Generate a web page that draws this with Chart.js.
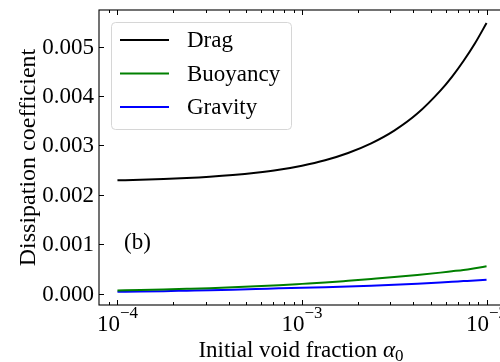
<!DOCTYPE html>
<html>
<head>
<meta charset="utf-8">
<script src="https://cdn.jsdelivr.net/npm/chart.js@4.4.1/dist/chart.umd.min.js"></script>
<style>
  html, body { margin: 0; padding: 0; background: #fff; overflow: hidden; width: 500px; height: 362px; }
  #wrap { position: absolute; left: 0; top: 0; width: 510px; height: 362px; }
</style>
</head>
<body>
<div id="wrap"><canvas id="c" width="510" height="362"></canvas></div>
<script>
// ---- data ----
const alpha0 = [1.0e-4, 1.334e-4, 1.778e-4, 2.371e-4, 3.162e-4, 4.217e-4, 5.623e-4, 7.499e-4, 1.0e-3,
                1.334e-3, 1.778e-3, 2.371e-3, 3.162e-3, 4.217e-3, 5.623e-3, 6.494e-3, 7.499e-3, 8.660e-3, 1.0e-2];
const dragVals     = [0.002293, 0.002304, 0.002319, 0.002338, 0.002364, 0.002399, 0.002446, 0.002507, 0.002590,
                      0.002700, 0.002847, 0.003042, 0.003300, 0.003645, 0.004110, 0.004390, 0.004710, 0.005070, 0.005480];
const buoyancyVals = [0.000060, 0.000070, 0.000081, 0.000094, 0.000108, 0.000125, 0.000145, 0.000168, 0.000195,
                      0.000223, 0.000258, 0.000295, 0.000333, 0.000375, 0.000423, 0.000450, 0.000477, 0.000512, 0.000550];
const gravityVals  = [0.000033, 0.000040, 0.000048, 0.000057, 0.000066, 0.000077, 0.000090, 0.000104, 0.000117,
                      0.000128, 0.000141, 0.000158, 0.000177, 0.000198, 0.000223, 0.000237, 0.000251, 0.000265, 0.000280];
const seriesNames  = ['Drag', 'Buoyancy', 'Gravity'];
const seriesColors = ['#000000', '#008000', '#0000ff'];
const xMajorTicks  = [1e-4, 1e-3, 1e-2];
const xMajorExp    = ['\u22124', '\u22123', '\u22122'];
const yTicks       = [0, 0.001, 0.002, 0.003, 0.004, 0.005];
const yTickLabels  = ['0.000', '0.001', '0.002', '0.003', '0.004', '0.005'];
const xMinorTicks  = [9e-5, 2e-4, 3e-4, 4e-4, 5e-4, 6e-4, 7e-4, 8e-4, 9e-4, 2e-3, 3e-3, 4e-3, 5e-3, 6e-3, 7e-3, 8e-3, 9e-3];
const xRange = [Math.pow(10, -4.1), Math.pow(10, -1.9)];
const yRange = [-0.000233, 0.005744];

const FONT = '"Liberation Serif", "Times New Roman", serif';
const FS = 23;

function pts(vals) { return alpha0.map((a, i) => ({ x: a, y: vals[i] })); }

const mplAxes = {
  id: 'mplAxes',
  afterDatasetsDraw(chart) {
    const ctx = chart.ctx;
    const ca = chart.chartArea;
    const xs = chart.scales.x, ys = chart.scales.y;
    ctx.save();
    ctx.strokeStyle = '#000';
    ctx.fillStyle = '#000';
    ctx.lineWidth = 1.1;
    // spines
    ctx.strokeRect(ca.left, ca.top, ca.right - ca.left, ca.bottom - ca.top);
    // x ticks (inward, bottom & top)
    const drawXT = (v, len) => {
      const px = Math.round(xs.getPixelForValue(v)) + 0.5;
      ctx.beginPath();
      ctx.moveTo(px, ca.bottom); ctx.lineTo(px, ca.bottom - len);
      ctx.moveTo(px, ca.top); ctx.lineTo(px, ca.top + len);
      ctx.stroke();
    };
    ctx.lineWidth = 1;
    xMajorTicks.forEach(v => drawXT(v, 5));
    xMinorTicks.forEach(v => { if (v >= xRange[0] && v <= xRange[1]) drawXT(v, 3); });
    // y ticks (inward)
    yTicks.forEach(v => {
      const py = Math.round(ys.getPixelForValue(v)) + 0.5;
      ctx.beginPath();
      ctx.moveTo(ca.left, py); ctx.lineTo(ca.left + 5, py);
      ctx.moveTo(ca.right, py); ctx.lineTo(ca.right - 5, py);
      ctx.stroke();
    });
    // y tick labels
    ctx.font = FS + 'px ' + FONT;
    ctx.textAlign = 'right';
    ctx.textBaseline = 'middle';
    yTicks.forEach((v, i) => {
      ctx.fillText(yTickLabels[i], ca.left - 5, ys.getPixelForValue(v) + 1);
    });
    // x tick labels: 10^exp
    ctx.textBaseline = 'alphabetic';
    xMajorTicks.forEach((v, i) => {
      const px = xs.getPixelForValue(v);
      ctx.font = FS + 'px ' + FONT;
      const w10 = ctx.measureText('10').width;
      ctx.font = Math.round(FS * 0.72) + 'px ' + FONT;
      const wE = ctx.measureText(xMajorExp[i]).width;
      const start = px - (w10 + wE) / 2;
      ctx.textAlign = 'left';
      ctx.font = FS + 'px ' + FONT;
      ctx.fillText('10', start, ca.bottom + 26);
      ctx.font = Math.round(FS * 0.72) + 'px ' + FONT;
      ctx.fillText(xMajorExp[i], start + w10, ca.bottom + 13);
    });
    // axis titles
    ctx.textAlign = 'left';
    const t1 = 'Initial void fraction ';
    ctx.font = FS + 'px ' + FONT;
    const w1 = ctx.measureText(t1).width;
    ctx.font = 'italic ' + FS + 'px ' + FONT;
    const wa = ctx.measureText('\u03b1').width;
    ctx.font = Math.round(FS * 0.72) + 'px ' + FONT;
    const w0 = ctx.measureText('0').width;
    const cx = (ca.left + ca.right) / 2;
    let sx = cx - (w1 + wa + w0) / 2 - 1;
    const by = 357;
    ctx.font = FS + 'px ' + FONT; ctx.fillText(t1, sx, by);
    ctx.font = 'italic ' + FS + 'px ' + FONT; ctx.fillText('\u03b1', sx + w1, by);
    ctx.font = Math.round(FS * 0.72) + 'px ' + FONT; ctx.fillText('0', sx + w1 + wa, by + 4);
    // y title
    ctx.save();
    ctx.translate(29, (ca.top + ca.bottom) / 2);
    ctx.rotate(-Math.PI / 2);
    ctx.font = '24px ' + FONT;
    ctx.textAlign = 'center';
    ctx.textBaseline = 'middle';
    ctx.fillText('Dissipation coefficient', 0, 0);
    ctx.restore();
    // panel label
    ctx.font = FS + 'px ' + FONT;
    ctx.textAlign = 'left';
    ctx.textBaseline = 'middle';
    ctx.fillText('(b)', 124, 243);
    // legend
    const lx = 111.5, ly = 22.5, lw = 180, lh = 107, r = 4;
    ctx.beginPath();
    ctx.moveTo(lx + r, ly);
    ctx.arcTo(lx + lw, ly, lx + lw, ly + lh, r);
    ctx.arcTo(lx + lw, ly + lh, lx, ly + lh, r);
    ctx.arcTo(lx, ly + lh, lx, ly, r);
    ctx.arcTo(lx, ly, lx + lw, ly, r);
    ctx.closePath();
    ctx.fillStyle = 'rgba(255,255,255,0.8)';
    ctx.fill();
    ctx.strokeStyle = '#d6d6d6';
    ctx.lineWidth = 1;
    ctx.stroke();
    chart.data.datasets.forEach((ds, i) => {
      const yy = 40 + i * 33.5;
      ctx.strokeStyle = ds.borderColor;
      ctx.lineWidth = 2;
      ctx.beginPath();
      ctx.moveTo(120, yy); ctx.lineTo(169, yy);
      ctx.stroke();
      ctx.fillStyle = '#000';
      ctx.font = FS + 'px ' + FONT;
      ctx.textAlign = 'left';
      ctx.textBaseline = 'middle';
      ctx.fillText(ds.label, 187, yy + 1);
    });
    ctx.restore();
  }
};

new Chart(document.getElementById('c'), {
  type: 'line',
  data: {
    datasets: [
      { label: seriesNames[0], data: pts(dragVals), borderColor: seriesColors[0] },
      { label: seriesNames[1], data: pts(buoyancyVals), borderColor: seriesColors[1] },
      { label: seriesNames[2], data: pts(gravityVals), borderColor: seriesColors[2] }
    ].map(d => Object.assign(d, { borderWidth: 2, pointRadius: 0, fill: false, cubicInterpolationMode: 'monotone' }))
  },
  options: {
    responsive: false,
    animation: false,
    devicePixelRatio: 1,
    layout: { padding: { left: 99, top: 10, right: 5, bottom: 57 } },
    plugins: { legend: { display: false }, tooltip: { enabled: false } },
    scales: {
      x: { type: 'logarithmic', min: xRange[0], max: xRange[1], display: false },
      y: { type: 'linear', min: yRange[0], max: yRange[1], display: false }
    }
  },
  plugins: [mplAxes]
});
</script>
</body>
</html>
